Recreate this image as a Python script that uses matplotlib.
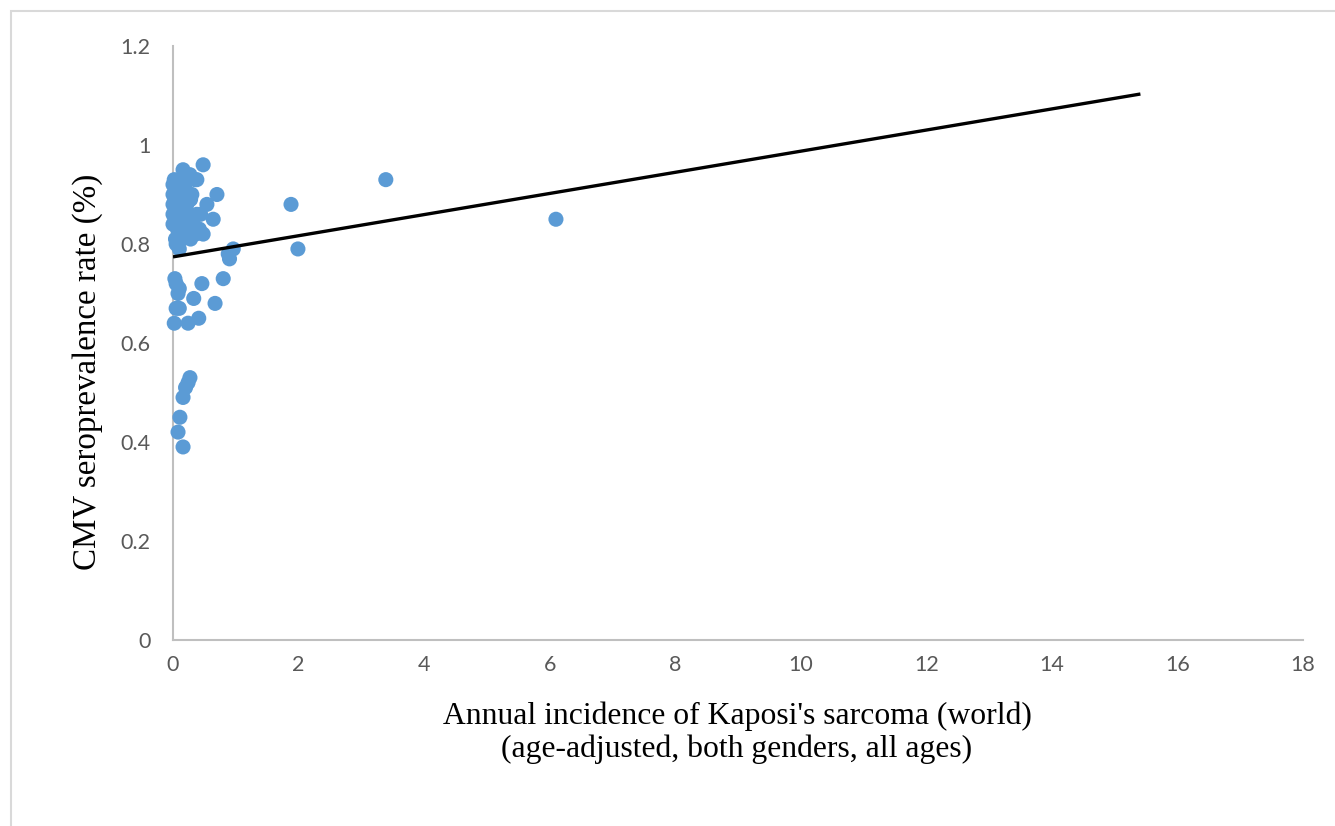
import matplotlib
matplotlib.use("Agg")
import matplotlib.pyplot as plt
from matplotlib.patches import Rectangle
import numpy as np

# Scattered / outlying points
x_outer = [0.48, 0.16, 3.39, 1.88, 6.10, 1.99, 0.96, 0.88, 0.90, 0.70, 0.64, 0.54,
           0.38, 0.27, 0.80, 0.46, 0.67, 0.33, 0.41, 0.24, 0.02, 0.03, 0.05, 0.10,
           0.08, 0.05, 0.10, 0.27, 0.24, 0.20, 0.16, 0.11, 0.08, 0.16]
y_outer = [0.96, 0.95, 0.93, 0.88, 0.85, 0.79, 0.79, 0.78, 0.77, 0.90, 0.85, 0.88,
           0.93, 0.94, 0.73, 0.72, 0.68, 0.69, 0.65, 0.64, 0.64, 0.73, 0.72, 0.71,
           0.70, 0.67, 0.67, 0.53, 0.52, 0.51, 0.49, 0.45, 0.42, 0.39]

# Dense cluster near the y axis
x_cluster = [0.00, 0.02, 0.05, 0.08, 0.12, 0.15, 0.20, 0.25, 0.30, 0.35,
             0.00, 0.03, 0.06, 0.10, 0.14, 0.18, 0.22, 0.28, 0.00, 0.04,
             0.08, 0.12, 0.16, 0.20, 0.26, 0.32, 0.38, 0.44, 0.00, 0.05,
             0.10, 0.15, 0.20, 0.30, 0.36, 0.42, 0.48, 0.02, 0.07, 0.12,
             0.18, 0.24, 0.00, 0.04, 0.09, 0.14, 0.19, 0.28, 0.05, 0.10]
y_cluster = [0.92, 0.93, 0.92, 0.91, 0.93, 0.92, 0.91, 0.90, 0.90, 0.93,
             0.90, 0.89, 0.90, 0.88, 0.89, 0.90, 0.88, 0.89, 0.88, 0.87,
             0.86, 0.87, 0.86, 0.87, 0.86, 0.85, 0.86, 0.86, 0.86, 0.85,
             0.84, 0.85, 0.84, 0.83, 0.82, 0.83, 0.82, 0.84, 0.83, 0.82,
             0.83, 0.82, 0.84, 0.81, 0.82, 0.81, 0.82, 0.81, 0.80, 0.79]

# Linear trend line
trend_intercept = 0.774
trend_slope = 0.02135
trend_x_range = [0.0, 15.41]

x_ticks = [0, 2, 4, 6, 8, 10, 12, 14, 16, 18]
y_ticks = [0, 0.2, 0.4, 0.6, 0.8, 1.0, 1.2]
y_tick_labels = ["0", "0.2", "0.4", "0.6", "0.8", "1", "1.2"]

x_label_lines = ["Annual incidence of Kaposi's sarcoma (world)",
                 "(age-adjusted, both genders, all ages)"]
y_label = "CMV seroprevalence rate (%)"

W, H = 1335, 826
fig = plt.figure(figsize=(W / 100, H / 100), dpi=100)
fig.patch.set_facecolor("white")

# outer chart border
fig.patches.append(Rectangle((11 / W, -0.05), 1.2, 1 - 11 / H + 0.05,
                             transform=fig.transFigure, fill=False,
                             edgecolor="#d9d9d9", linewidth=1.5))

ax = fig.add_axes([173 / W, 1 - 640 / H, (1303 - 173) / W, (640 - 46) / H])
ax.set_xlim(0, 18)
ax.set_ylim(0, 1.2)

xs = np.array(x_outer + x_cluster)
ys = np.array(y_outer + y_cluster)
ax.scatter(xs, ys, s=118, color="#5b9bd5", edgecolors="none", zorder=3, clip_on=False)

tx = np.array(trend_x_range)
ax.plot(tx, trend_intercept + trend_slope * tx, color="black", linewidth=2.4, zorder=4,
        solid_capstyle="butt")

for s in ["top", "right"]:
    ax.spines[s].set_visible(False)
for s in ["left", "bottom"]:
    ax.spines[s].set_color("#bfbfbf")
    ax.spines[s].set_linewidth(1.5)

ax.set_xticks(x_ticks)
ax.set_yticks(y_ticks)
ax.set_yticklabels(y_tick_labels)
ax.tick_params(axis="both", length=0, labelsize=15.5, labelcolor="#595959")
ax.tick_params(axis="x", pad=11)
ax.tick_params(axis="y", pad=16)
for lab in ax.get_xticklabels() + ax.get_yticklabels():
    lab.set_family("Lato")

fig.text(737 / W, 1 - 716 / H, x_label_lines[0], ha="center", va="center",
         family="Liberation Serif", fontsize=22.8)
fig.text(737 / W, 1 - 749 / H, x_label_lines[1], ha="center", va="center",
         family="Liberation Serif", fontsize=22.8)
fig.text(88 / W, 1 - 372 / H, y_label, ha="center", va="center", rotation=90,
         family="Liberation Serif", fontsize=23.8)

fig.savefig("out.png", dpi=100)
